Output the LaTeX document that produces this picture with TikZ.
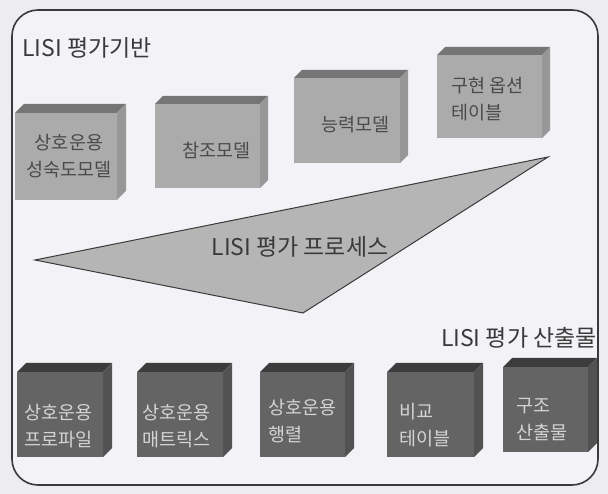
\documentclass[tikz,border=0pt]{standalone}
\usepackage{fontspec}
\setmainfont{Noto Sans CJK KR}
\definecolor{pagebg}{HTML}{EDEDF1}
\definecolor{framebg}{HTML}{F3F3F7}
\definecolor{framedraw}{HTML}{3A3A3A}
\definecolor{lightfront}{HTML}{ABABAB}
\definecolor{lighttop}{HTML}{757575}
\definecolor{lightside}{HTML}{979797}
\definecolor{darkfront}{HTML}{646464}
\definecolor{darktop}{HTML}{3C3C3C}
\definecolor{darkside}{HTML}{525252}
\definecolor{trifill}{HTML}{B5B5B5}
\definecolor{lighttext}{HTML}{4A4A4A}
\definecolor{darktext}{HTML}{D4D4D4}
\tikzset{
  face/.style={inner sep=0pt, outer sep=0pt, draw=none},
  lightbox/.style={face, fill=lightfront},
  darkbox/.style={face, fill=darkfront},
  boxtext/.style={font=\fontsize{18.5}{27}\selectfont, align=left, inner sep=0pt, anchor=west},
  lighttxt/.style={boxtext, text=lighttext},
  darktxt/.style={boxtext, text=darktext},
  heading/.style={font=\fontsize{23}{27}\selectfont, text=framedraw, inner sep=0pt},
  triangle/.style={fill=trifill, draw=framedraw, line width=1pt, line join=miter},
}
\newcommand\cubesides[4]{%
  \fill[#2] (#1.north west) -- ++(#4,-#4) -- ([shift={(#4,-#4)}]#1.north east) -- (#1.north east) -- cycle;
  \fill[#3] (#1.north east) -- ++(#4,-#4) -- ([shift={(#4,-#4)}]#1.south east) -- (#1.south east) -- cycle;
}
\begin{document}
\begin{tikzpicture}[x=1pt,y=-1pt]
\useasboundingbox (0,0) rectangle (608,494);
\fill[pagebg] (0,0) rectangle (608,494);
\draw[rounded corners=26pt, line width=1.6pt, draw=framedraw, fill=framebg] (12,10) rectangle (598,485);

% headings
\node[heading, anchor=west] (h1) at (22,48) {LISI 평가기반};
\node[heading, anchor=east] (h2) at (597,338) {LISI 평가 산출물};

% top (light) cubes
\node[lightbox, minimum width=102, minimum height=87] (t1) at (66,156.5) {};
\cubesides{t1}{lighttop}{lightside}{9}
\node[lightbox, minimum width=105, minimum height=84] (t2) at (207.5,146) {};
\cubesides{t2}{lighttop}{lightside}{8}
\node[lightbox, minimum width=106, minimum height=85] (t3) at (347,120.5) {};
\cubesides{t3}{lighttop}{lightside}{8}
\node[lightbox, minimum width=105, minimum height=83] (t4) at (489.5,96.5) {};
\cubesides{t4}{lighttop}{lightside}{8}

\node[lighttxt, align=center, anchor=center] (t1l) at (69,156.5) {상호운용\\성숙도모델};
\node[lighttxt] (t2l) at (182,150) {참조모델};
\node[lighttxt] (t3l) at (321,125) {능력모델};
\node[lighttxt] (t4l) at (451,99.5) {구현 옵션\\테이블};

% process triangle
\coordinate (pl) at (35,260);
\coordinate (pr) at (548,157);
\coordinate (pb) at (303,313);
\draw[triangle] (pl) -- (pr) -- (pb) -- cycle;
\node[heading] (proc) at (300,247) {LISI 평가 프로세스};

% bottom (dark) cubes
\node[darkbox, minimum width=86, minimum height=85] (b1) at (60,414.5) {};
\cubesides{b1}{darktop}{darkside}{9}
\node[darkbox, minimum width=86, minimum height=85] (b2) at (180,414.5) {};
\cubesides{b2}{darktop}{darkside}{9}
\node[darkbox, minimum width=85, minimum height=85] (b3) at (302.5,414.5) {};
\cubesides{b3}{darktop}{darkside}{9}
\node[darkbox, minimum width=87, minimum height=85] (b4) at (430.5,414.5) {};
\cubesides{b4}{darktop}{darkside}{9}
\node[darkbox, minimum width=85, minimum height=85] (b5) at (545.5,409.5) {};
\cubesides{b5}{darktop}{darkside}{9}

\node[darktxt] (b1l) at (24,426) {상호운용\\프로파일};
\node[darktxt] (b2l) at (142,426) {상호운용\\매트릭스};
\node[darktxt] (b3l) at (268,421) {상호운용\\행렬};
\node[darktxt] (b4l) at (399,425) {비교\\테이블};
\node[darktxt] (b5l) at (516,420) {구조\\산출물};
\end{tikzpicture}
\end{document}
